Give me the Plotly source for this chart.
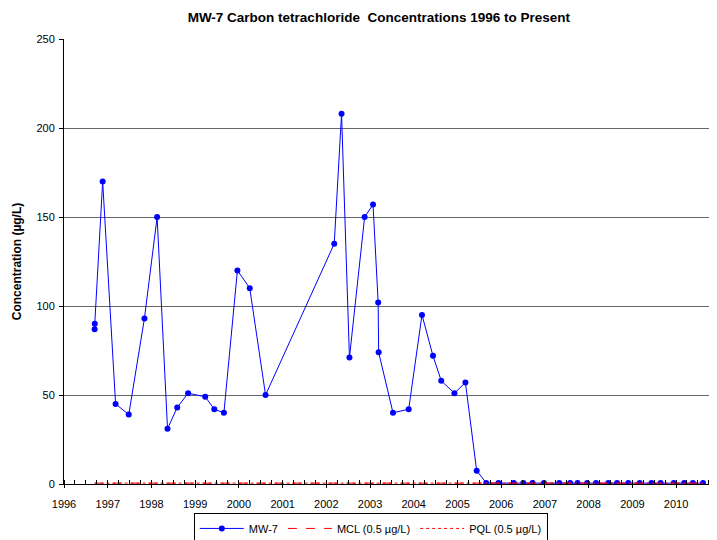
import plotly.graph_objects as go

# Sampling dates and carbon tetrachloride concentrations (µg/L) at MW-7
sample_dates = [
    "1996-09-13", "1996-09-14", "1996-11-19", "1997-03-07", "1997-06-25",
    "1997-11-03", "1998-02-17", "1998-05-15", "1998-08-04", "1998-11-03",
    "1999-03-26", "1999-06-10", "1999-08-29", "1999-12-20", "2000-04-01",
    "2000-08-11", "2002-03-08", "2002-05-08", "2002-07-13", "2002-11-17",
    "2003-01-26", "2003-03-10", "2003-03-14", "2003-07-12", "2003-11-20",
    "2004-03-10", "2004-06-10", "2004-08-18", "2004-12-06", "2005-03-08",
    "2005-06-10", "2005-08-29", "2005-12-09", "2006-04-16", "2006-07-05",
    "2006-09-20", "2006-12-24", "2007-05-01", "2007-07-31", "2007-10-01",
    "2007-12-20", "2008-03-03", "2008-06-14", "2008-08-26", "2008-11-28",
    "2009-03-03", "2009-06-10", "2009-08-25", "2009-12-13", "2010-03-10",
    "2010-05-22", "2010-08-14",
]
mw7_values = [
    87, 90, 170, 45, 39,
    93, 150, 31, 43, 51,
    49, 42, 40, 120, 110,
    50, 135, 208, 71, 150,
    157, 102, 74, 40, 42,
    95, 72, 58, 51, 57,
    7.5, 0.6, 0.5, 0.5, 0.5,
    0.5, 0.5, 0.5, 0.5, 0.5,
    0.5, 0.5, 0.5, 0.5, 0.5,
    0.5, 0.5, 0.5, 0.5, 0.5,
    0.5, 0.5,
]

limit_dates = ["1996-09-13", "2010-08-14"]
mcl_values = [0.5, 0.5]
pql_values = [0.5, 0.5]

y_ticks = [0, 50, 100, 150, 200, 250]

FONT = "Liberation Sans, Arial, sans-serif"

fig = go.Figure()
fig.add_trace(go.Scatter(
    x=sample_dates, y=mw7_values, name="MW-7", mode="lines+markers",
    line=dict(color="#0000FF", width=1),
    marker=dict(color="#0000FF", size=6),
))
fig.add_trace(go.Scatter(
    x=limit_dates, y=mcl_values, name="MCL (0.5 µg/L)", mode="lines",
    line=dict(color="#FF0000", width=1, dash="dash"),
))
fig.add_trace(go.Scatter(
    x=limit_dates, y=pql_values, name="PQL (0.5 µg/L)", mode="lines",
    line=dict(color="#FF0000", width=1, dash="dot"),
))

# page body has an 8px margin, so the figure is sized to fill the rest
fig.update_layout(
    width=709, height=532,
    margin=dict(l=56, r=3, t=31, b=56, autoexpand=False),
    paper_bgcolor="white", plot_bgcolor="white",
    font=dict(family=FONT, size=11, color="black"),
    title=dict(
        text="<b>MW-7 Carbon tetrachloride  Concentrations 1996 to Present</b>",
        x=0.523, xanchor="center", y=0.983, yanchor="middle",
        font=dict(family=FONT, size=13.5, color="black"),
    ),
    showlegend=True,
    legend=dict(
        orientation="h", x=0.472, xanchor="center", y=-0.065, yanchor="top",
        bordercolor="black", borderwidth=1, bgcolor="white",
        font=dict(family=FONT, size=11, color="black"),
        itemwidth=44,
    ),
)

fig.update_xaxes(
    type="date", automargin=False,
    range=["1996-01-01", "2010-11-14"],
    dtick="M12", tick0="1996-01-01", tickformat="%Y",
    ticks="outside", ticklen=3, tickcolor="black",
    ticklabelstandoff=7,
    minor=dict(dtick="M3", tick0="1996-01-01", ticks="inside", ticklen=4, tickcolor="black", showgrid=False),
    showline=True, linecolor="black", linewidth=1,
    showgrid=False, zeroline=False,
    tickfont=dict(family=FONT, size=11, color="black"),
)
fig.update_yaxes(
    automargin=False,
    range=[0, 250], tickvals=y_ticks,
    ticks="outside", ticklen=4, tickcolor="black",
    ticklabelstandoff=2,
    showline=True, linecolor="black", linewidth=1,
    showgrid=True, gridcolor="#666666", gridwidth=1,
    zeroline=False,
    title=dict(text="<b>Concentration (µg/L)</b>", standoff=12,
               font=dict(family=FONT, size=12, color="black")),
    tickfont=dict(family=FONT, size=11, color="black"),
)

fig.write_html("out.html")
